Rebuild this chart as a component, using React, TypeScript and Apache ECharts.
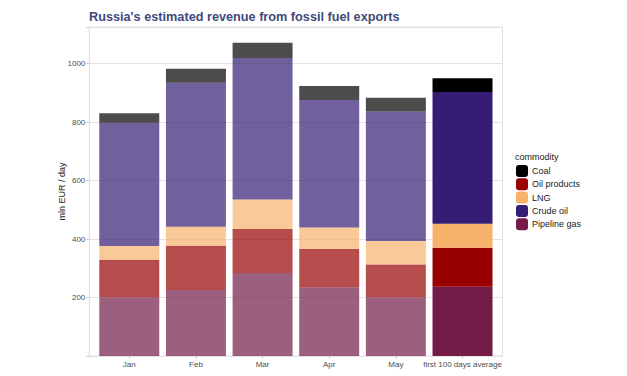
import React, { useEffect, useRef } from "react";
import * as echarts from "echarts";

const categories = ["Jan", "Feb", "Mar", "Apr", "May", "first 100 days average"];
const pipelineGas = [201, 226, 284, 235, 201, 237];
const crudeOil = [422, 492, 484, 436, 443, 451];
const lng = [47, 65, 101, 73, 80, 82];
const oilProducts = [128, 151, 150, 131, 112, 133];
const coal = [32, 48, 52, 48, 47, 47];
const yTicks = [200, 400, 600, 800, 1000];

const seriesDefs = [
  { name: "Pipeline gas", data: pipelineGas, color: "#741b47" },
  { name: "Oil products", data: oilProducts, color: "#990000" },
  { name: "LNG", data: lng, color: "#f6b26b" },
  { name: "Crude oil", data: crudeOil, color: "#351c75" },
  { name: "Coal", data: coal, color: "#000000" },
];

const PL = 89.3, PR = 502.5, PT = 27, PB = 356;

export default function App() {
  const ref = useRef<HTMLDivElement>(null);
  useEffect(() => {
    document.body.style.margin = "0";
    const chart = echarts.init(ref.current!, null, { renderer: "svg" });
    const step = (PR - PL) / 6.2;
    const g1Left = PL + 0.1 * step;
    const g1Right = PL + 6.1 * step;
    const font = "Liberation Sans, Arial, sans-serif";
    chart.setOption({
      animation: false,
      backgroundColor: "#ffffff",
      title: [
        {
          text: "Russia's estimated revenue from fossil fuel exports",
          left: 84,
          top: 5,
          textStyle: { fontFamily: font, fontSize: 12.7, fontWeight: "bold", color: "#414a7a" },
        },
        {
          text: "commodity",
          left: 510,
          top: 147,
          textStyle: { fontFamily: font, fontSize: 9, fontWeight: "normal", color: "#1a1a1a" },
        },
      ],
      legend: {
        data: ["Coal", "Oil products", "LNG", "Crude oil", "Pipeline gas"],
        orient: "vertical",
        left: 511,
        top: 160,
        itemWidth: 12,
        itemHeight: 12,
        itemGap: 1.3,
        textStyle: { fontFamily: font, fontSize: 9, lineHeight: 12, color: "#1a1a1a", padding: [0, 0, 0, -1] },
        selectedMode: false,
      },
      grid: [
        {
          left: PL, top: PT, width: PR - PL, height: PB - PT,
          show: true, borderColor: "#dedede", borderWidth: 1, backgroundColor: "transparent",
        },
        { left: g1Left, top: PT, width: g1Right - g1Left, height: PB - PT },
      ],
      xAxis: [
        { type: "category", gridIndex: 0, data: categories, show: false },
        {
          type: "category",
          gridIndex: 1,
          data: categories,
          axisLine: { show: false },
          axisTick: { show: true, alignWithLabel: true, length: 3, lineStyle: { color: "#cccccc" } },
          axisLabel: { fontFamily: font, fontSize: 8, color: "#4d4d4d", margin: 4, interval: 0 },
        },
      ],
      yAxis: [
        {
          type: "value",
          gridIndex: 0,
          min: 0,
          max: 1125,
          interval: 200,
          axisLine: { show: false },
          axisTick: { show: true, length: 3, lineStyle: { color: "#cccccc" } },
          axisLabel: {
            fontFamily: font,
            fontSize: 8,
            color: "#4d4d4d",
            margin: 4,
            formatter: (v: number) => (yTicks.includes(v) ? String(v) : ""),
          },
          splitLine: { show: true, lineStyle: { color: "#e3e3e3", width: 1 } },
          name: "mln EUR / day",
          nameLocation: "middle",
          nameGap: 23,
          nameMoveOverlap: false,
          nameTextStyle: { fontFamily: font, fontSize: 9, color: "#1a1a1a" },
        },
        { type: "value", gridIndex: 1, min: 0, max: 1125, show: false },
      ],
      series: seriesDefs.map((s) => ({
        name: s.name,
        type: "bar",
        stack: "total",
        xAxisIndex: 1,
        yAxisIndex: 1,
        barCategoryGap: "10%",
        itemStyle: { color: s.color },
        data: s.data.map((v, i) => ({
          value: v,
          itemStyle: { opacity: i < 5 ? 0.7 : 1 },
        })),
      })),
    });
    return () => chart.dispose();
  }, []);
  return <div ref={ref} style={{ width: 627, height: 376 }} />;
}
